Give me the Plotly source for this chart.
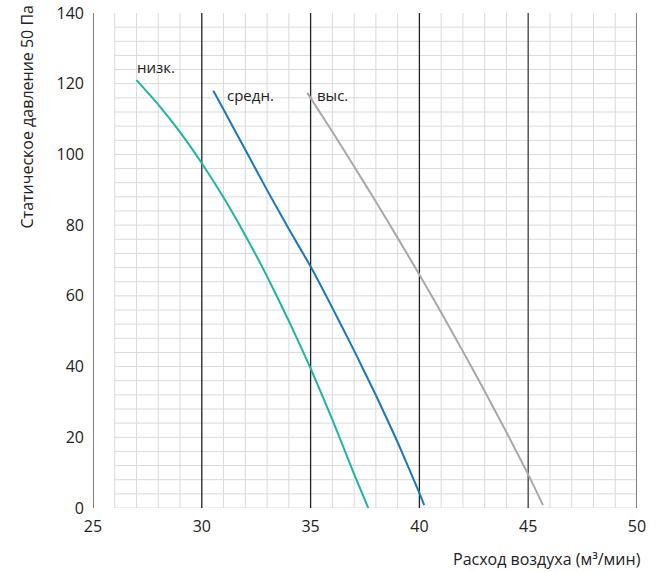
import plotly.graph_objects as go

# Data
low_x = [27.0, 28.0, 29.0, 30.0, 31.0, 32.0, 33.0, 34.0, 35.0, 36.0, 37.0, 37.65]
low_y = [121.0, 114.1, 106.3, 97.5, 87.8, 77.1, 65.5, 52.9, 39.5, 25.0, 9.6, 0.0]

mid_x = [30.53, 31.0, 32.0, 33.0, 34.0, 35.0, 36.0, 37.0, 38.0, 39.0, 40.0, 40.22]
mid_y = [118.0, 112.7, 101.3, 89.9, 78.9, 68.3, 56.6, 44.5, 31.9, 18.6, 4.2, 0.8]

high_x = [34.85, 36.0, 37.0, 38.0, 39.0, 40.0, 41.0, 42.0, 43.0, 44.0, 45.0, 45.68]
high_y = [117.4, 106.4, 96.6, 86.6, 76.4, 66.0, 55.3, 44.3, 33.0, 21.4, 9.5, 0.8]

series_names = ["низк.", "средн.", "выс."]
series_colors = ["#1db5a3", "#1a78b6", "#a8a8a8"]

x_ticks = [25, 30, 35, 40, 45, 50]
y_ticks = [0, 20, 40, 60, 80, 100, 120, 140]

FONT = "Open Sans"
TXT = "#222222"

fig = go.Figure()
for name, xs, ys, col in zip(series_names, [low_x, mid_x, high_x], [low_y, mid_y, high_y], series_colors):
    fig.add_trace(go.Scatter(x=xs, y=ys, mode="lines", name=name,
                             line=dict(color=col, width=2, shape="spline", smoothing=0.5),
                             showlegend=False, hoverinfo="skip"))

# horizontal grid lines (start at x=26, every 4 units)
for gy in range(0, 140, 4):
    fig.add_shape(type="line", x0=26, x1=50, y0=gy, y1=gy, xref="x", yref="y",
                  line=dict(color="#dadada", width=1), layer="below")
# vertical minor grid lines
for gx in range(26, 50):
    if gx % 5 == 0:
        continue
    fig.add_shape(type="line", x0=gx, x1=gx, y0=0, y1=140, xref="x", yref="y",
                  line=dict(color="#dadada", width=1), layer="below")
# vertical major lines
for gx in [30, 35, 40]:
    fig.add_shape(type="line", x0=gx, x1=gx, y0=0, y1=140, xref="x", yref="y",
                  line=dict(color="#222222", width=1.3), layer="below")
fig.add_shape(type="line", x0=45, x1=45, y0=0, y1=140, xref="x", yref="y",
              line=dict(color="#555555", width=1.5), layer="below")
fig.add_shape(type="line", x0=50, x1=50, y0=0, y1=140, xref="x", yref="y",
              line=dict(color="#808080", width=2), layer="below")
fig.add_shape(type="line", x0=25, x1=25, y0=0, y1=140, xref="x", yref="y",
              line=dict(color="#808080", width=2), layer="below")

# series labels
label_pos = [(26.95, 124.8), (31.05, 116.8), (35.2, 116.8)]
for name, (lx, ly) in zip(series_names, label_pos):
    fig.add_annotation(x=lx, y=ly, text=name, showarrow=False, xanchor="left", yanchor="middle",
                       font=dict(family=FONT, size=15, color=TXT))

fig.add_annotation(xref="paper", yref="y", x=-0.121, y=110.5, text="Статическое давление 50 Па",
                   textangle=-90, showarrow=False, xanchor="center", yanchor="middle",
                   font=dict(family=FONT, size=16, color=TXT))
fig.add_annotation(xref="paper", yref="paper", x=1.011, y=-0.104, text="Расход воздуха (м³/мин)",
                   showarrow=False, xanchor="right", yanchor="middle",
                   font=dict(family=FONT, size=16, color=TXT))

fig.update_layout(
    width=656, height=572,
    margin=dict(l=93, r=19, t=13, b=64, autoexpand=False),
    paper_bgcolor="white", plot_bgcolor="white",
    font=dict(family=FONT, size=16, color=TXT),
    xaxis=dict(range=[25, 50], tickvals=x_ticks, showgrid=False, zeroline=False,
               showline=False, ticks="", ticklabelstandoff=7, automargin=False,
               tickfont=dict(family=FONT, size=16, color=TXT)),
    yaxis=dict(range=[0, 140], tickvals=y_ticks, showgrid=False, zeroline=False,
               showline=False, ticks="", ticklabelstandoff=8, automargin=False,
               tickfont=dict(family=FONT, size=16, color=TXT)),
)

fig.write_html("out.html", config={"displayModeBar": False},
               post_script="document.body.style.margin='0';document.body.style.padding='0';")
